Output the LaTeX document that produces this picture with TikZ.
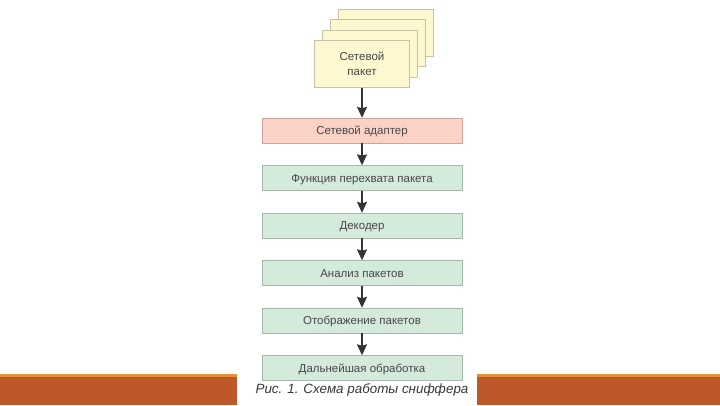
\documentclass[tikz,border=0pt]{standalone}
\usepackage{fontspec}
\setmainfont{Liberation Sans}
\usepackage{tikz}
\usetikzlibrary{arrows.meta}
\definecolor{pktfill}{HTML}{FDF8D0}
\definecolor{pktline}{HTML}{C8C2A2}
\definecolor{adpfill}{HTML}{FCD2C6}
\definecolor{adpline}{HTML}{C6A89F}
\definecolor{stfill}{HTML}{D4EBDB}
\definecolor{stline}{HTML}{A8B6AC}
\definecolor{band}{HTML}{BE572A}
\definecolor{bandtop}{HTML}{E5903A}

\begin{document}
\begin{tikzpicture}[x=1pt,y=-1pt]
\tikzset{edge/.style = {-{Stealth[length=11pt,width=10pt,inset=1.5pt]},line width=1.5pt,draw=black!80},
  pkt/.style = {draw=pktline,fill=pktfill,minimum width=95pt,minimum height=47pt,inner sep=0pt,align=center,font=\fontsize{11.5}{14.5}\selectfont,text=black!72},
  stage/.style = {draw=stline,fill=stfill,minimum width=200pt,minimum height=25pt,inner sep=0pt,text height=8.3pt,text depth=0pt,font=\fontsize{11.5}{13}\selectfont,text=black!72}}
\useasboundingbox (0,0) rectangle (720,405);

% bottom bands
\fill[band] (0,374) rectangle (237,405);
\fill[bandtop] (0,374) rectangle (237,377);
\fill[band] (477,374) rectangle (720,405);
\fill[bandtop] (477,374) rectangle (720,377);

% packet stack
\node[pkt] (p3) at (386,32.5) {};
\node[pkt] (p2) at (378,43) {};
\node[pkt] (p1) at (370,53.5) {};
\node[pkt] (pkt) at (362,64) {Сетевой\\пакет};

\node[stage,fill=adpfill,draw=adpline] (adp) at (362,130.5) {Сетевой адаптер};
\node[stage] (cap) at (362,178) {Функция перехвата пакета};
\node[stage] (dec) at (362,225.5) {Декодер};
\node[stage] (ana) at (362,273) {Анализ пакетов};
\node[stage] (dsp) at (362,320.5) {Отображение пакетов};
\node[stage] (post) at (362,368) {Дальнейшая обработка};

\draw[edge] (pkt) to (adp);
\draw[edge] (adp) to (cap);
\draw[edge] (cap) to (dec);
\draw[edge] (dec) to (ana);
\draw[edge] (ana) to (dsp);
\draw[edge] (dsp) to (post);

\node[font=\fontsize{13.4}{16}\selectfont\itshape,text=black!78] (title) at (362,390) {Рис. 1. Схема работы сниффера};
\end{tikzpicture}
\end{document}
